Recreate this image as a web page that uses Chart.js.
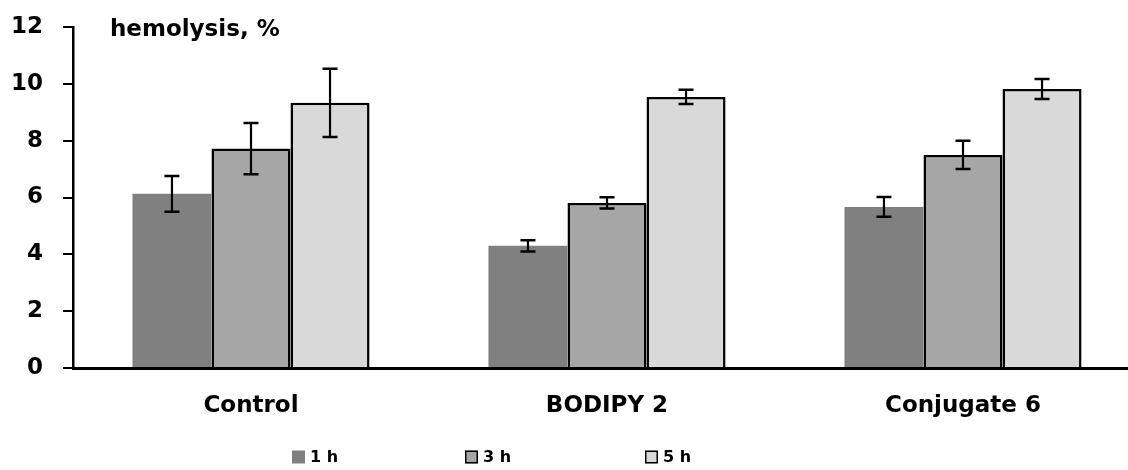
<!DOCTYPE html>
<html>
<head>
<meta charset="utf-8">
<script src="https://cdn.jsdelivr.net/npm/chart.js@4.4.1/dist/chart.umd.min.js"></script>
<style>
  html, body { margin: 0; padding: 0; background: #fff; overflow: hidden; }
  #wrap { width: 1145px; height: 470px; }
</style>
</head>
<body>
<div id="wrap"><canvas id="hemolysis-chart" width="1145" height="470"></canvas></div>
<script>
// Data
const categories  = ['Control', 'BODIPY 2', 'Conjugate 6'];
const seriesNames = ['1 h', '3 h', '5 h'];
const hemolysis1h = [6.13, 4.30, 5.67];
const hemolysis3h = [7.72, 5.81, 7.50];
const hemolysis5h = [9.33, 9.54, 9.82];
const error1h     = [0.63, 0.20, 0.35];
const error3h     = [0.90, 0.20, 0.50];
const error5h     = [1.20, 0.25, 0.35];
const yTicks      = [0, 2, 4, 6, 8, 10, 12];
const yTitle      = 'hemolysis, %';

const FONT = 'DejaVu Sans';

/**
 * Error bars (mean ± SD) drawn on top of each bar.
 */
const errorBarPlugin = {
  id: 'errorBars',
  afterDatasetsDraw(chart) {
    const ctx = chart.ctx;
    const yScale = chart.scales.y;
    ctx.save();
    ctx.strokeStyle = '#000';
    chart.data.datasets.forEach((ds, i) => {
      const meta = chart.getDatasetMeta(i);
      meta.data.forEach((bar, j) => {
        const v = ds.data[j];
        const e = ds.errorBars[j];
        const yHi = yScale.getPixelForValue(v + e);
        const yLo = yScale.getPixelForValue(v - e);
        ctx.lineWidth = 2.2;
        ctx.beginPath();
        ctx.moveTo(bar.x, yHi);
        ctx.lineTo(bar.x, yLo);
        ctx.stroke();
        ctx.lineWidth = 2.5;
        ctx.beginPath();
        ctx.moveTo(bar.x - 7.5, yHi);
        ctx.lineTo(bar.x + 7.5, yHi);
        ctx.moveTo(bar.x - 7.5, yLo);
        ctx.lineTo(bar.x + 7.5, yLo);
        ctx.stroke();
      });
    });
    ctx.restore();
  }
};

/**
 * Axis caption inside the plot and the spaced-out legend under the categories.
 */
const decorPlugin = {
  id: 'decor',
  afterDraw(chart) {
    const ctx = chart.ctx;
    const area = chart.chartArea;
    ctx.save();

    // y caption
    ctx.fillStyle = '#000';
    ctx.font = `bold 23px "${FONT}"`;
    ctx.textBaseline = 'alphabetic';
    ctx.textAlign = 'left';
    ctx.fillText(yTitle, area.left + 37, 36);

    // legend
    const boxX = [292, 465, 645];
    const cy = 457;
    const size = 13;
    ctx.font = `bold 16px "${FONT}"`;
    ctx.textBaseline = 'middle';
    chart.data.datasets.forEach((ds, i) => {
      const x = boxX[i];
      ctx.fillStyle = ds.backgroundColor;
      ctx.fillRect(x, cy - size / 2, size, size);
      if (ds.borderWidth > 0) {
        ctx.strokeStyle = '#000';
        ctx.lineWidth = 1.5;
        ctx.strokeRect(x + 0.75, cy - size / 2 + 0.75, size - 1.5, size - 1.5);
      }
      ctx.fillStyle = '#000';
      ctx.fillText(ds.label, x + size + 5, cy + 1);
    });

    ctx.restore();
  }
};

const tickFont = { family: FONT, size: 23, weight: 'bold' };

new Chart(document.getElementById('hemolysis-chart').getContext('2d'), {
  type: 'bar',
  data: {
    labels: categories,
    datasets: [
      {
        label           : seriesNames[0],
        data            : hemolysis1h,
        errorBars       : error1h,
        backgroundColor : '#808080',
        borderColor     : '#808080',
        borderWidth     : 0
      },
      {
        label           : seriesNames[1],
        data            : hemolysis3h,
        errorBars       : error3h,
        backgroundColor : '#a6a6a6',
        borderColor     : '#000',
        borderWidth     : 2.5
      },
      {
        label           : seriesNames[2],
        data            : hemolysis5h,
        errorBars       : error5h,
        backgroundColor : '#d9d9d9',
        borderColor     : '#000',
        borderWidth     : 2.5
      }
    ]
  },
  options: {
    responsive: false,
    animation : false,
    layout    : { padding: { top: 27, right: 4, left: 0, bottom: 0 } },
    datasets  : { bar: { categoryPercentage: 0.666, barPercentage: 1.0 } },
    plugins   : {
      legend : { display: false },
      tooltip: { enabled: false }
    },
    scales: {
      x: {
        border : { display: true, color: '#000', width: 3 },
        grid   : { display: false, drawTicks: false },
        ticks  : { color: '#000', font: tickFont, padding: 24 },
        afterFit: s => { s.height = 102; }
      },
      y: {
        min   : 0,
        max   : 12,
        border: { display: true, color: '#000', width: 2.5 },
        grid  : { drawOnChartArea: false, drawTicks: true, tickLength: 10, color: '#000', lineWidth: 2 },
        ticks : { color: '#000', font: tickFont, padding: 20, stepSize: 2 },
        afterBuildTicks: s => { s.ticks = yTicks.map(v => ({ value: v })); },
        afterFit: s => {
          s.width = 73;
          // let layout.padding decide the plot top, not the label padding
          s.paddingTop = 0;
          s.paddingBottom = 0;
        }
      }
    }
  },
  plugins: [errorBarPlugin, decorPlugin]
});
</script>
</body>
</html>
